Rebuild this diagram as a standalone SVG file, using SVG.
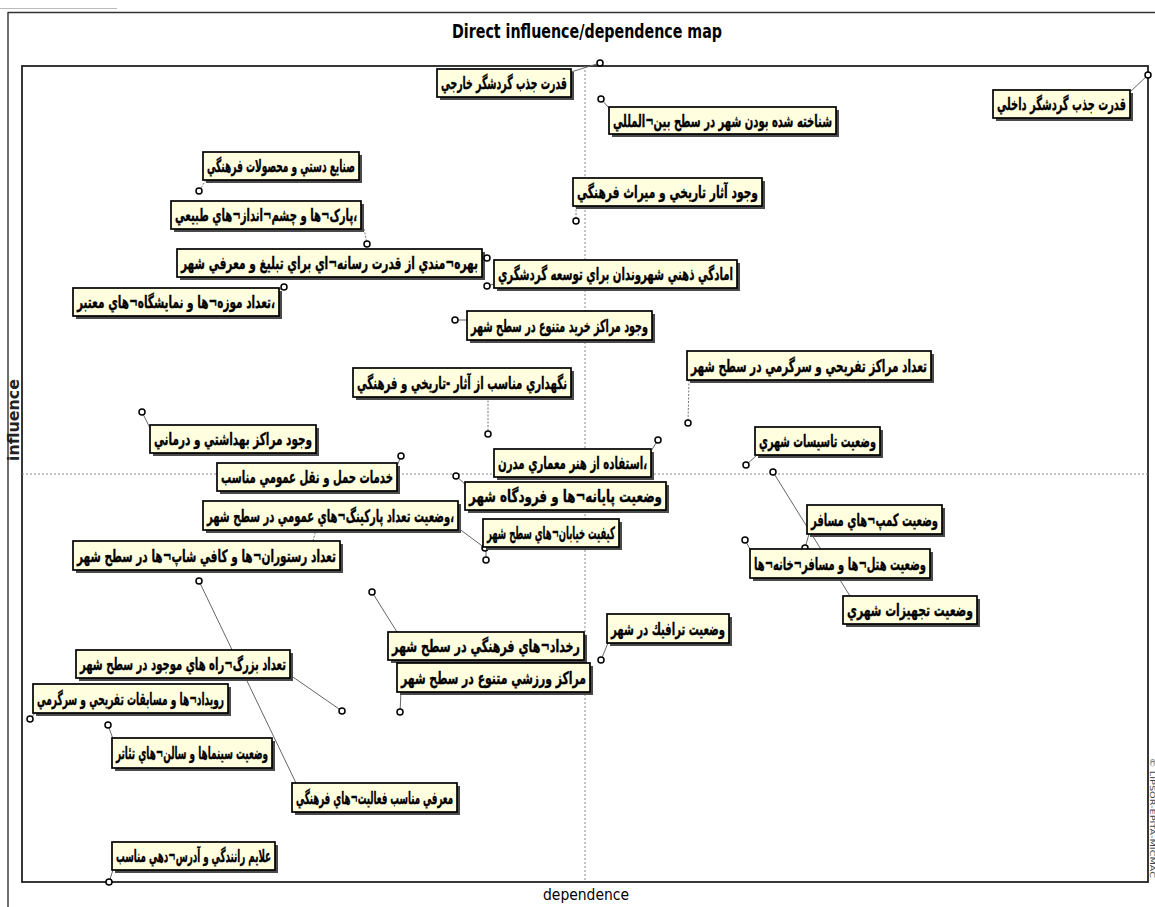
<svg xmlns="http://www.w3.org/2000/svg" width="1155" height="907" viewBox="0 0 1155 907">
<style>
.bg{fill:#fff}
.frame{fill:none;stroke:#222;stroke-width:1.8}
.win{stroke:#333;stroke-width:1.4}
.axis{stroke:#888;stroke-width:1;stroke-dasharray:2,2}
.sh{fill:#4a4a4a}
.box{fill:#ffffe0;stroke:#000;stroke-width:1.7}
.t{font-family:"DejaVu Sans",sans-serif;font-weight:bold;font-size:17px;fill:#000;stroke:#000;stroke-width:0.35;text-anchor:middle;direction:rtl}
.pt{fill:#fff;stroke:#000;stroke-width:1.5}
.ln{stroke:#666;stroke-width:1;fill:none}
.dl{stroke:#777;stroke-width:1;fill:none;stroke-dasharray:2,1.5}
.ttl{font-family:"DejaVu Sans Condensed","DejaVu Sans",sans-serif;font-stretch:condensed;font-weight:bold;font-size:19px;fill:#000}
.ax{font-family:"DejaVu Sans Condensed","DejaVu Sans",sans-serif;font-stretch:condensed;font-size:16px;fill:#000}
.axv{font-family:"DejaVu Sans",sans-serif;font-weight:bold;font-size:15px;fill:#222}
.wm{font-family:"DejaVu Sans",sans-serif;font-size:7px;fill:#444}
</style>
<rect class="bg" x="0" y="0" width="1155" height="907"/>
<g id="window">
<line x1="0" y1="8.5" x2="117" y2="8.5" stroke="#bbb" stroke-width="1"/>
<line class="win" x1="8" y1="12.5" x2="1155" y2="12.5"/>
<line class="win" x1="8" y1="12" x2="8" y2="907"/>
</g>
<text class="ttl" x="587" y="38" text-anchor="middle" textLength="270" lengthAdjust="spacingAndGlyphs">Direct influence/dependence map</text>
<g id="plot">
<rect class="frame" x="22" y="66" width="1126" height="816"/>
<line class="axis" x1="585" y1="66" x2="585" y2="882"/>
<line class="axis" x1="22" y1="474" x2="1148" y2="474"/>
</g>
<text class="axv" transform="translate(19,420) rotate(-90)" text-anchor="middle" textLength="82" lengthAdjust="spacingAndGlyphs">influence</text>
<text class="ax" x="586" y="900" text-anchor="middle" textLength="86" lengthAdjust="spacingAndGlyphs">dependence</text>
<text class="wm" transform="translate(1150,818) rotate(90)" text-anchor="middle" textLength="120" lengthAdjust="spacingAndGlyphs">© LIPSOR-EPITA-MICMAC</text>

<g id="connectors">
<line class="ln" x1="571" y1="72" x2="600" y2="63"/>
<line class="ln" x1="609" y1="108" x2="601" y2="99"/>
<line class="ln" x1="1130" y1="92" x2="1148" y2="75"/>
<line class="dl" x1="576" y1="206" x2="576" y2="221"/>
<line class="dl" x1="206" y1="180" x2="199" y2="191"/>
<line class="dl" x1="364" y1="229" x2="367" y2="243"/>
<line class="ln" x1="482" y1="252" x2="487" y2="258"/>
<line class="ln" x1="494" y1="284" x2="487" y2="286"/>
<line class="ln" x1="279" y1="290" x2="284" y2="287"/>
<line class="ln" x1="467" y1="320" x2="455" y2="320"/>
<line class="dl" x1="689" y1="380" x2="688" y2="423"/>
<line class="dl" x1="488" y1="397" x2="488" y2="434"/>
<line class="ln" x1="150" y1="428" x2="142" y2="412"/>
<line class="ln" x1="651" y1="451" x2="658" y2="440"/>
<line class="ln" x1="757" y1="455" x2="746" y2="465"/>
<line class="ln" x1="397" y1="466" x2="401" y2="456"/>
<line class="ln" x1="466" y1="485" x2="456" y2="476"/>
<line class="ln" x1="458" y1="528" x2="485" y2="548"/>
<line class="ln" x1="486" y1="547" x2="486" y2="560"/>
<line class="dl" x1="313" y1="541" x2="316" y2="530"/>
<line class="ln" x1="290" y1="675" x2="342" y2="711"/>
<line class="ln" x1="36" y1="712" x2="30" y2="719"/>
<line class="ln" x1="113" y1="739" x2="108" y2="725"/>
<line class="ln" x1="199" y1="581" x2="296" y2="783"/>
<line class="ln" x1="113" y1="870" x2="109" y2="882"/>
<line class="ln" x1="397" y1="632" x2="372" y2="592"/>
<line class="ln" x1="401" y1="692" x2="400" y2="712"/>
<line class="ln" x1="608" y1="643" x2="601" y2="660"/>
<line class="ln" x1="809" y1="534" x2="805" y2="548"/>
<line class="ln" x1="751" y1="551" x2="745" y2="540"/>
<line class="ln" x1="773" y1="472" x2="850" y2="596"/>
</g>

<g id="n1"><rect class="sh" x="440" y="72" width="134" height="28"/><rect class="box" x="437" y="69" width="134" height="28"/><text class="t" x="504" y="89" textLength="126" lengthAdjust="spacingAndGlyphs">قدرت جذب گردشگر خارجي</text><circle class="pt" cx="600" cy="63" r="3"/></g>
<g id="n2"><rect class="sh" x="612" y="110" width="227" height="27"/><rect class="box" x="609" y="107" width="227" height="27"/><text class="t" x="722.5" y="126.5" textLength="219" lengthAdjust="spacingAndGlyphs">شناخته شده بودن شهر در سطح بين¬المللي</text><circle class="pt" cx="601" cy="99" r="3"/></g>
<g id="n3"><rect class="sh" x="996" y="93" width="137" height="28"/><rect class="box" x="993" y="90" width="137" height="28"/><text class="t" x="1061.5" y="110" textLength="129" lengthAdjust="spacingAndGlyphs">قدرت جذب گردشگر داخلي</text><circle class="pt" cx="1148" cy="75" r="3"/></g>
<g id="n4"><rect class="sh" x="576" y="181" width="189" height="28"/><rect class="box" x="573" y="178" width="189" height="28"/><text class="t" x="667.5" y="198" textLength="181" lengthAdjust="spacingAndGlyphs">وجود آثار تاريخي و ميراث فرهنگي</text><circle class="pt" cx="576" cy="221" r="3"/></g>
<g id="n5"><rect class="sh" x="206" y="155" width="156" height="28"/><rect class="box" x="203" y="152" width="156" height="28"/><text class="t" x="281" y="172" textLength="148" lengthAdjust="spacingAndGlyphs">صنايع دستي و محصولات فرهنگي</text><circle class="pt" cx="199" cy="191" r="3"/></g>
<g id="n6"><rect class="sh" x="174" y="204" width="190" height="28"/><rect class="box" x="171" y="201" width="190" height="28"/><text class="t" x="266" y="221" textLength="182" lengthAdjust="spacingAndGlyphs">،پارک¬ها و چشم¬انداز¬هاي طبيعي</text><circle class="pt" cx="367" cy="244" r="3"/></g>
<g id="n7"><rect class="sh" x="180" y="252" width="305" height="28"/><rect class="box" x="177" y="249" width="305" height="28"/><text class="t" x="329.5" y="269" textLength="297" lengthAdjust="spacingAndGlyphs">بهره¬مندي از قدرت رسانه¬اي براي تبليغ و معرفي شهر</text><circle class="pt" cx="487" cy="258" r="3"/></g>
<g id="n8"><rect class="sh" x="497" y="263" width="243" height="28"/><rect class="box" x="494" y="260" width="243" height="28"/><text class="t" x="615.5" y="280" textLength="235" lengthAdjust="spacingAndGlyphs">امادگي ذهني شهروندان براي توسعه گردشگري</text><circle class="pt" cx="487" cy="286" r="3"/></g>
<g id="n9"><rect class="sh" x="76" y="291" width="206" height="28"/><rect class="box" x="73" y="288" width="206" height="28"/><text class="t" x="176" y="308" textLength="198" lengthAdjust="spacingAndGlyphs">،تعداد موزه¬ها و نمايشگاه¬هاي معتبر</text><circle class="pt" cx="284" cy="287" r="3"/></g>
<g id="n10"><rect class="sh" x="470" y="314" width="185" height="29"/><rect class="box" x="467" y="311" width="185" height="29"/><text class="t" x="559.5" y="331.5" textLength="177" lengthAdjust="spacingAndGlyphs">وجود مراكز خريد متنوع در سطح شهر</text><circle class="pt" cx="455" cy="320" r="3"/></g>
<g id="n11"><rect class="sh" x="690" y="354" width="244" height="29"/><rect class="box" x="687" y="351" width="244" height="29"/><text class="t" x="809" y="371.5" textLength="236" lengthAdjust="spacingAndGlyphs">تعداد مراكز تفريحي و سرگرمي در سطح شهر</text><circle class="pt" cx="688" cy="423" r="3"/></g>
<g id="n12"><rect class="sh" x="356" y="371" width="218" height="29"/><rect class="box" x="353" y="368" width="218" height="29"/><text class="t" x="462" y="388.5" textLength="210" lengthAdjust="spacingAndGlyphs">نگهداري مناسب از آثار -تاريخي و فرهنگي</text><circle class="pt" cx="488" cy="434" r="3"/></g>
<g id="n13"><rect class="sh" x="153" y="428" width="166" height="28"/><rect class="box" x="150" y="425" width="166" height="28"/><text class="t" x="233" y="445" textLength="158" lengthAdjust="spacingAndGlyphs">وجود مراكز بهداشتي و درماني</text><circle class="pt" cx="142" cy="412" r="3"/></g>
<g id="n14"><rect class="sh" x="497" y="452" width="157" height="28"/><rect class="box" x="494" y="449" width="157" height="28"/><text class="t" x="572.5" y="469" textLength="149" lengthAdjust="spacingAndGlyphs">،استفاده از هنر معماري مدرن</text><circle class="pt" cx="658" cy="440" r="3"/></g>
<g id="n15"><rect class="sh" x="758" y="430" width="125" height="28"/><rect class="box" x="755" y="427" width="125" height="28"/><text class="t" x="817.5" y="447" textLength="117" lengthAdjust="spacingAndGlyphs">وضعيت تاسيسات شهري</text><circle class="pt" cx="746" cy="465" r="3"/></g>
<g id="n16"><rect class="sh" x="220" y="466" width="180" height="28"/><rect class="box" x="217" y="463" width="180" height="28"/><text class="t" x="307" y="483" textLength="172" lengthAdjust="spacingAndGlyphs">خدمات حمل و نقل عمومي مناسب</text><circle class="pt" cx="401" cy="456" r="3"/></g>
<g id="n17"><rect class="sh" x="468" y="485" width="201" height="28"/><rect class="box" x="465" y="482" width="201" height="28"/><text class="t" x="565.5" y="502" textLength="193" lengthAdjust="spacingAndGlyphs">وضعيت پايانه¬ها و فرودگاه شهر</text><circle class="pt" cx="456" cy="476" r="3"/></g>
<g id="n18"><rect class="sh" x="206" y="504" width="255" height="29"/><rect class="box" x="203" y="501" width="255" height="29"/><text class="t" x="330.5" y="521.5" textLength="247" lengthAdjust="spacingAndGlyphs">،وضعيت تعداد پاركينگ¬هاي عمومي در سطح شهر</text><circle class="pt" cx="485" cy="548" r="3"/></g>
<g id="n19"><rect class="sh" x="486" y="522" width="136" height="28"/><rect class="box" x="483" y="519" width="136" height="28"/><text class="t" x="551" y="539" textLength="128" lengthAdjust="spacingAndGlyphs">كيفيت خيابان¬هاي سطح شهر</text><circle class="pt" cx="486" cy="560" r="3"/></g>
<g id="n20"><rect class="sh" x="76" y="544" width="267" height="29"/><rect class="box" x="73" y="541" width="267" height="29"/><text class="t" x="206.5" y="561.5" textLength="259" lengthAdjust="spacingAndGlyphs">تعداد رستوران¬ها و كافي شاپ¬ها در سطح شهر</text></g>
<g id="n21"><rect class="sh" x="79" y="653" width="214" height="28"/><rect class="box" x="76" y="650" width="214" height="28"/><text class="t" x="183" y="670" textLength="206" lengthAdjust="spacingAndGlyphs">تعداد بزرگ¬راه هاي موجود در سطح شهر</text><circle class="pt" cx="342" cy="711" r="3"/></g>
<g id="n22"><rect class="sh" x="36" y="687" width="195" height="29"/><rect class="box" x="33" y="684" width="195" height="29"/><text class="t" x="130.5" y="704.5" textLength="187" lengthAdjust="spacingAndGlyphs">رويداد¬ها و مسابقات تفريحي و سرگرمي</text><circle class="pt" cx="30" cy="719" r="3"/></g>
<g id="n23"><rect class="sh" x="115" y="741" width="160" height="30"/><rect class="box" x="112" y="738" width="160" height="30"/><text class="t" x="192" y="759" textLength="152" lengthAdjust="spacingAndGlyphs">وضعيت سينماها و سالن¬هاي تئاتر</text><circle class="pt" cx="108" cy="725" r="3"/></g>
<g id="n24"><rect class="sh" x="295" y="786" width="165" height="29"/><rect class="box" x="292" y="783" width="165" height="29"/><text class="t" x="374.5" y="803.5" textLength="157" lengthAdjust="spacingAndGlyphs">معرفي مناسب فعاليت¬هاي فرهنگي</text><circle class="pt" cx="199" cy="581" r="3"/></g>
<g id="n25"><rect class="sh" x="115" y="845" width="163" height="28"/><rect class="box" x="112" y="842" width="163" height="28"/><text class="t" x="193.5" y="862" textLength="155" lengthAdjust="spacingAndGlyphs">علايم رانندگي و آدرس¬دهي مناسب</text><circle class="pt" cx="109" cy="882" r="3"/></g>
<g id="n26"><rect class="sh" x="391" y="635" width="196" height="28"/><rect class="box" x="388" y="632" width="196" height="28"/><text class="t" x="486" y="652" textLength="188" lengthAdjust="spacingAndGlyphs">رخداد¬هاي فرهنگي در سطح شهر</text><circle class="pt" cx="372" cy="592" r="3"/></g>
<g id="n27"><rect class="sh" x="400" y="666" width="193" height="29"/><rect class="box" x="397" y="663" width="193" height="29"/><text class="t" x="493.5" y="683.5" textLength="185" lengthAdjust="spacingAndGlyphs">مراكز ورزشي متنوع در سطح شهر</text><circle class="pt" cx="400" cy="712" r="3"/></g>
<g id="n28"><rect class="sh" x="610" y="617" width="122" height="29"/><rect class="box" x="607" y="614" width="122" height="29"/><text class="t" x="668" y="634.5" textLength="114" lengthAdjust="spacingAndGlyphs">وضعيت ترافيك در شهر</text><circle class="pt" cx="601" cy="660" r="3"/></g>
<g id="n29"><rect class="sh" x="810" y="508" width="135" height="29"/><rect class="box" x="807" y="505" width="135" height="29"/><text class="t" x="874.5" y="525.5" textLength="127" lengthAdjust="spacingAndGlyphs">وضعيت كمپ¬هاي مسافر</text><circle class="pt" cx="805" cy="548" r="3"/></g>
<g id="n30"><rect class="sh" x="753" y="552" width="180" height="29"/><rect class="box" x="750" y="549" width="180" height="29"/><text class="t" x="840" y="569.5" textLength="172" lengthAdjust="spacingAndGlyphs">وضعيت هتل¬ها و مسافر¬خانه¬ها</text><circle class="pt" cx="745" cy="540" r="3"/></g>
<g id="n31"><rect class="sh" x="846" y="599" width="134" height="28"/><rect class="box" x="843" y="596" width="134" height="28"/><text class="t" x="910" y="616" textLength="126" lengthAdjust="spacingAndGlyphs">وضعيت تجهيزات شهري</text><circle class="pt" cx="773" cy="472" r="3"/></g>
</svg>
